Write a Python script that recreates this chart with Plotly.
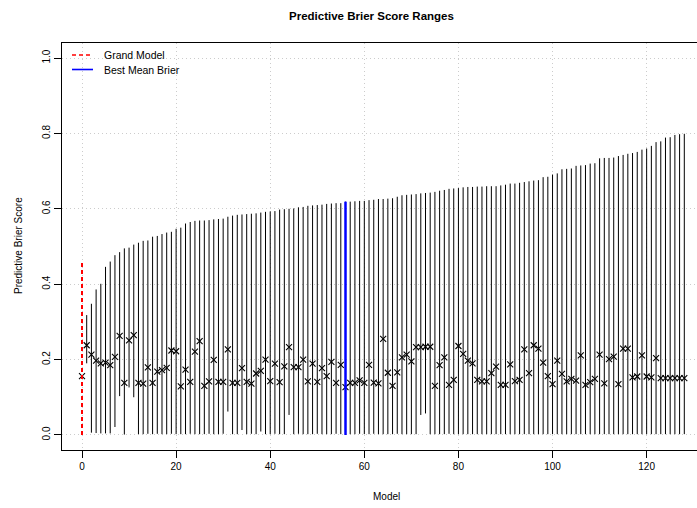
import plotly.graph_objects as go

models = list(range(129))

max_vals = [0.458, 0.318, 0.348, 0.386, 0.401, 0.446, 0.460, 0.477, 0.485, 0.495,
            0.497, 0.505, 0.510, 0.515, 0.516, 0.526, 0.528, 0.533, 0.537, 0.539,
            0.547, 0.550, 0.561, 0.565, 0.568, 0.569, 0.569, 0.570, 0.572, 0.573,
            0.574, 0.579, 0.582, 0.584, 0.585, 0.586, 0.587, 0.588, 0.590, 0.592,
            0.593, 0.594, 0.598, 0.599, 0.600, 0.601, 0.604, 0.605, 0.608, 0.609,
            0.610, 0.611, 0.613, 0.614, 0.615, 0.615, 0.619, 0.619, 0.620, 0.621,
            0.621, 0.623, 0.624, 0.626, 0.626, 0.627, 0.628, 0.632, 0.636, 0.637,
            0.638, 0.639, 0.641, 0.642, 0.643, 0.645, 0.648, 0.650, 0.653, 0.654,
            0.655, 0.657, 0.658, 0.658, 0.659, 0.659, 0.660, 0.660, 0.660, 0.662,
            0.664, 0.667, 0.667, 0.669, 0.671, 0.673, 0.675, 0.676, 0.684, 0.685,
            0.691, 0.694, 0.705, 0.706, 0.707, 0.714, 0.715, 0.716, 0.720, 0.721,
            0.734, 0.735, 0.735, 0.736, 0.740, 0.743, 0.746, 0.748, 0.751, 0.757,
            0.760, 0.767, 0.777, 0.779, 0.789, 0.790, 0.796, 0.798, 0.799]

min_vals = [0.000, 0.190, 0.006, 0.005, 0.004, 0.004, 0.004, 0.021, 0.103, 0.001,
            0.126, 0.100, 0.002, 0.002, 0.003, 0.002, 0.003, 0.002, 0.002, 0.003,
            0.002, 0.002, 0.002, 0.003, 0.002, 0.002, 0.002, 0.003, 0.002, 0.002,
            0.003, 0.062, 0.002, 0.002, 0.013, 0.002, 0.003, 0.002, 0.009, 0.002,
            0.002, 0.003, 0.002, 0.002, 0.053, 0.002, 0.003, 0.002, 0.002, 0.002,
            0.003, 0.002, 0.002, 0.002, 0.003, 0.002, 0.000, 0.002, 0.002, 0.003,
            0.002, 0.002, 0.003, 0.002, 0.002, 0.002, 0.002, 0.003, 0.002, 0.002,
            0.002, 0.002, 0.053, 0.057, 0.002, 0.002, 0.002, 0.002, 0.003, 0.002,
            0.002, 0.002, 0.002, 0.002, 0.002, 0.002, 0.002, 0.002, 0.002, 0.002,
            0.002, 0.002, 0.002, 0.002, 0.002, 0.002, 0.002, 0.002, 0.002, 0.002,
            0.002, 0.002, 0.002, 0.002, 0.002, 0.002, 0.002, 0.002, 0.002, 0.002,
            0.002, 0.002, 0.002, 0.002, 0.002, 0.002, 0.002, 0.002, 0.002, 0.002,
            0.002, 0.002, 0.002, 0.002, 0.002, 0.002, 0.002, 0.002, 0.002]

mean_vals = [0.156, 0.238, 0.213, 0.197, 0.190, 0.192, 0.185, 0.207, 0.263, 0.138,
             0.251, 0.265, 0.138, 0.136, 0.179, 0.138, 0.168, 0.172, 0.178, 0.224,
             0.222, 0.129, 0.173, 0.141, 0.221, 0.249, 0.130, 0.142, 0.199, 0.141,
             0.141, 0.227, 0.138, 0.138, 0.177, 0.141, 0.136, 0.163, 0.170, 0.200,
             0.143, 0.189, 0.140, 0.182, 0.233, 0.180, 0.180, 0.200, 0.142, 0.189,
             0.141, 0.177, 0.156, 0.194, 0.138, 0.186, 0.127, 0.138, 0.138, 0.145,
             0.138, 0.186, 0.139, 0.137, 0.255, 0.165, 0.130, 0.166, 0.206, 0.213,
             0.195, 0.233, 0.233, 0.234, 0.234, 0.130, 0.185, 0.206, 0.133, 0.146,
             0.236, 0.215, 0.197, 0.190, 0.146, 0.142, 0.142, 0.164, 0.181, 0.133,
             0.133, 0.187, 0.143, 0.146, 0.227, 0.164, 0.238, 0.229, 0.192, 0.156,
             0.135, 0.197, 0.162, 0.142, 0.149, 0.144, 0.211, 0.133, 0.140, 0.149,
             0.213, 0.137, 0.201, 0.208, 0.135, 0.229, 0.229, 0.153, 0.155, 0.211,
             0.155, 0.153, 0.204, 0.151, 0.151, 0.151, 0.151, 0.151, 0.151]

grand_model = 0
best_model = 56

x_ticks = [0, 20, 40, 60, 80, 100, 120]
y_ticks = [0.0, 0.2, 0.4, 0.6, 0.8, 1.0]

legend_labels = ["Grand Model", "Best Mean Brier"]
legend_colors = ["red", "blue"]
legend_dash = ["4px,3px", "solid"]

FONT = "Liberation Sans, Arial, Helvetica, sans-serif"
PL, PW, PT, PH = 62, 635, 43, 407  # plot area in pixels


def px_to_paper_x(px):
    return (px - PL) / PW


def px_to_paper_y(py):
    return 1 - (py - PT) / PH


seg_x, seg_y = [], []
for m, lo, hi in zip(models, min_vals, max_vals):
    if m == grand_model:
        continue
    seg_x += [m, m, None]
    seg_y += [lo, hi, None]

fig = go.Figure()
fig.add_trace(go.Scatter(x=seg_x, y=seg_y, mode="lines",
                         line=dict(color="black", width=1),
                         showlegend=False, hoverinfo="skip"))
fig.add_trace(go.Scatter(x=models, y=mean_vals, mode="markers",
                         marker=dict(symbol="x-thin", size=6, color="black",
                                     line=dict(color="black", width=1.1)),
                         showlegend=False))
fig.add_trace(go.Scatter(x=[grand_model, grand_model],
                         y=[min_vals[grand_model], max_vals[grand_model]],
                         mode="lines", name=legend_labels[0], showlegend=False,
                         line=dict(color=legend_colors[0], width=2,
                                   dash=legend_dash[0])))
fig.add_trace(go.Scatter(x=[best_model, best_model],
                         y=[min_vals[best_model], max_vals[best_model]],
                         mode="lines", name=legend_labels[1], showlegend=False,
                         line=dict(color=legend_colors[1], width=2.5)))

shapes = []
annotations = [
    dict(text="<b>Predictive Brier Score Ranges</b>", xref="paper", yref="paper",
         x=px_to_paper_x(371), y=px_to_paper_y(16), showarrow=False,
         font=dict(size=11.5), xanchor="center", yanchor="middle"),
    dict(text="Model", xref="paper", yref="paper", x=px_to_paper_x(386),
         y=px_to_paper_y(496), showarrow=False, font=dict(size=10),
         xanchor="center", yanchor="middle"),
    dict(text="Predictive Brier Score", xref="paper", yref="paper",
         x=px_to_paper_x(18), y=px_to_paper_y(246), showarrow=False,
         textangle=-90, font=dict(size=10), xanchor="center", yanchor="middle"),
]
for i, (lab, col, dsh) in enumerate(zip(legend_labels, legend_colors, legend_dash)):
    yy = 55 + i * 14.5
    shapes.append(dict(type="line", xref="paper", yref="paper",
                       x0=px_to_paper_x(72), x1=px_to_paper_x(93),
                       y0=px_to_paper_y(yy), y1=px_to_paper_y(yy),
                       line=dict(color=col, width=1.6, dash=dsh)))
    annotations.append(dict(text=lab, xref="paper", yref="paper",
                            x=px_to_paper_x(102), y=px_to_paper_y(yy),
                            showarrow=False, font=dict(size=10.5),
                            xanchor="left", yanchor="middle"))

fig.update_layout(
    width=697, height=508,
    margin=dict(l=PL, r=697 - PL - PW, t=PT, b=508 - PT - PH),
    paper_bgcolor="white", plot_bgcolor="white",
    font=dict(family=FONT, size=10, color="black"),
    showlegend=False,
    shapes=shapes,
    annotations=annotations,
)

fig.update_xaxes(range=[-4.25, 130.7], tickvals=x_ticks, ticks="outside",
                 ticklen=7, tickcolor="black", showline=True, linecolor="black",
                 linewidth=1, mirror=True, showgrid=True, gridcolor="#cccccc",
                 griddash="1px,3px", gridwidth=1, zeroline=False,
                 tickfont=dict(size=10))
fig.update_yaxes(range=[-0.04, 1.04], tickvals=y_ticks, tickformat=".1f",
                 ticks="outside", ticklen=7, tickcolor="black", showline=True,
                 linecolor="black", linewidth=1, showgrid=True,
                 gridcolor="#cccccc", griddash="1px,3px", gridwidth=1,
                 zeroline=False, tickangle=-90, tickfont=dict(size=10))

fig.write_html("out.html")
